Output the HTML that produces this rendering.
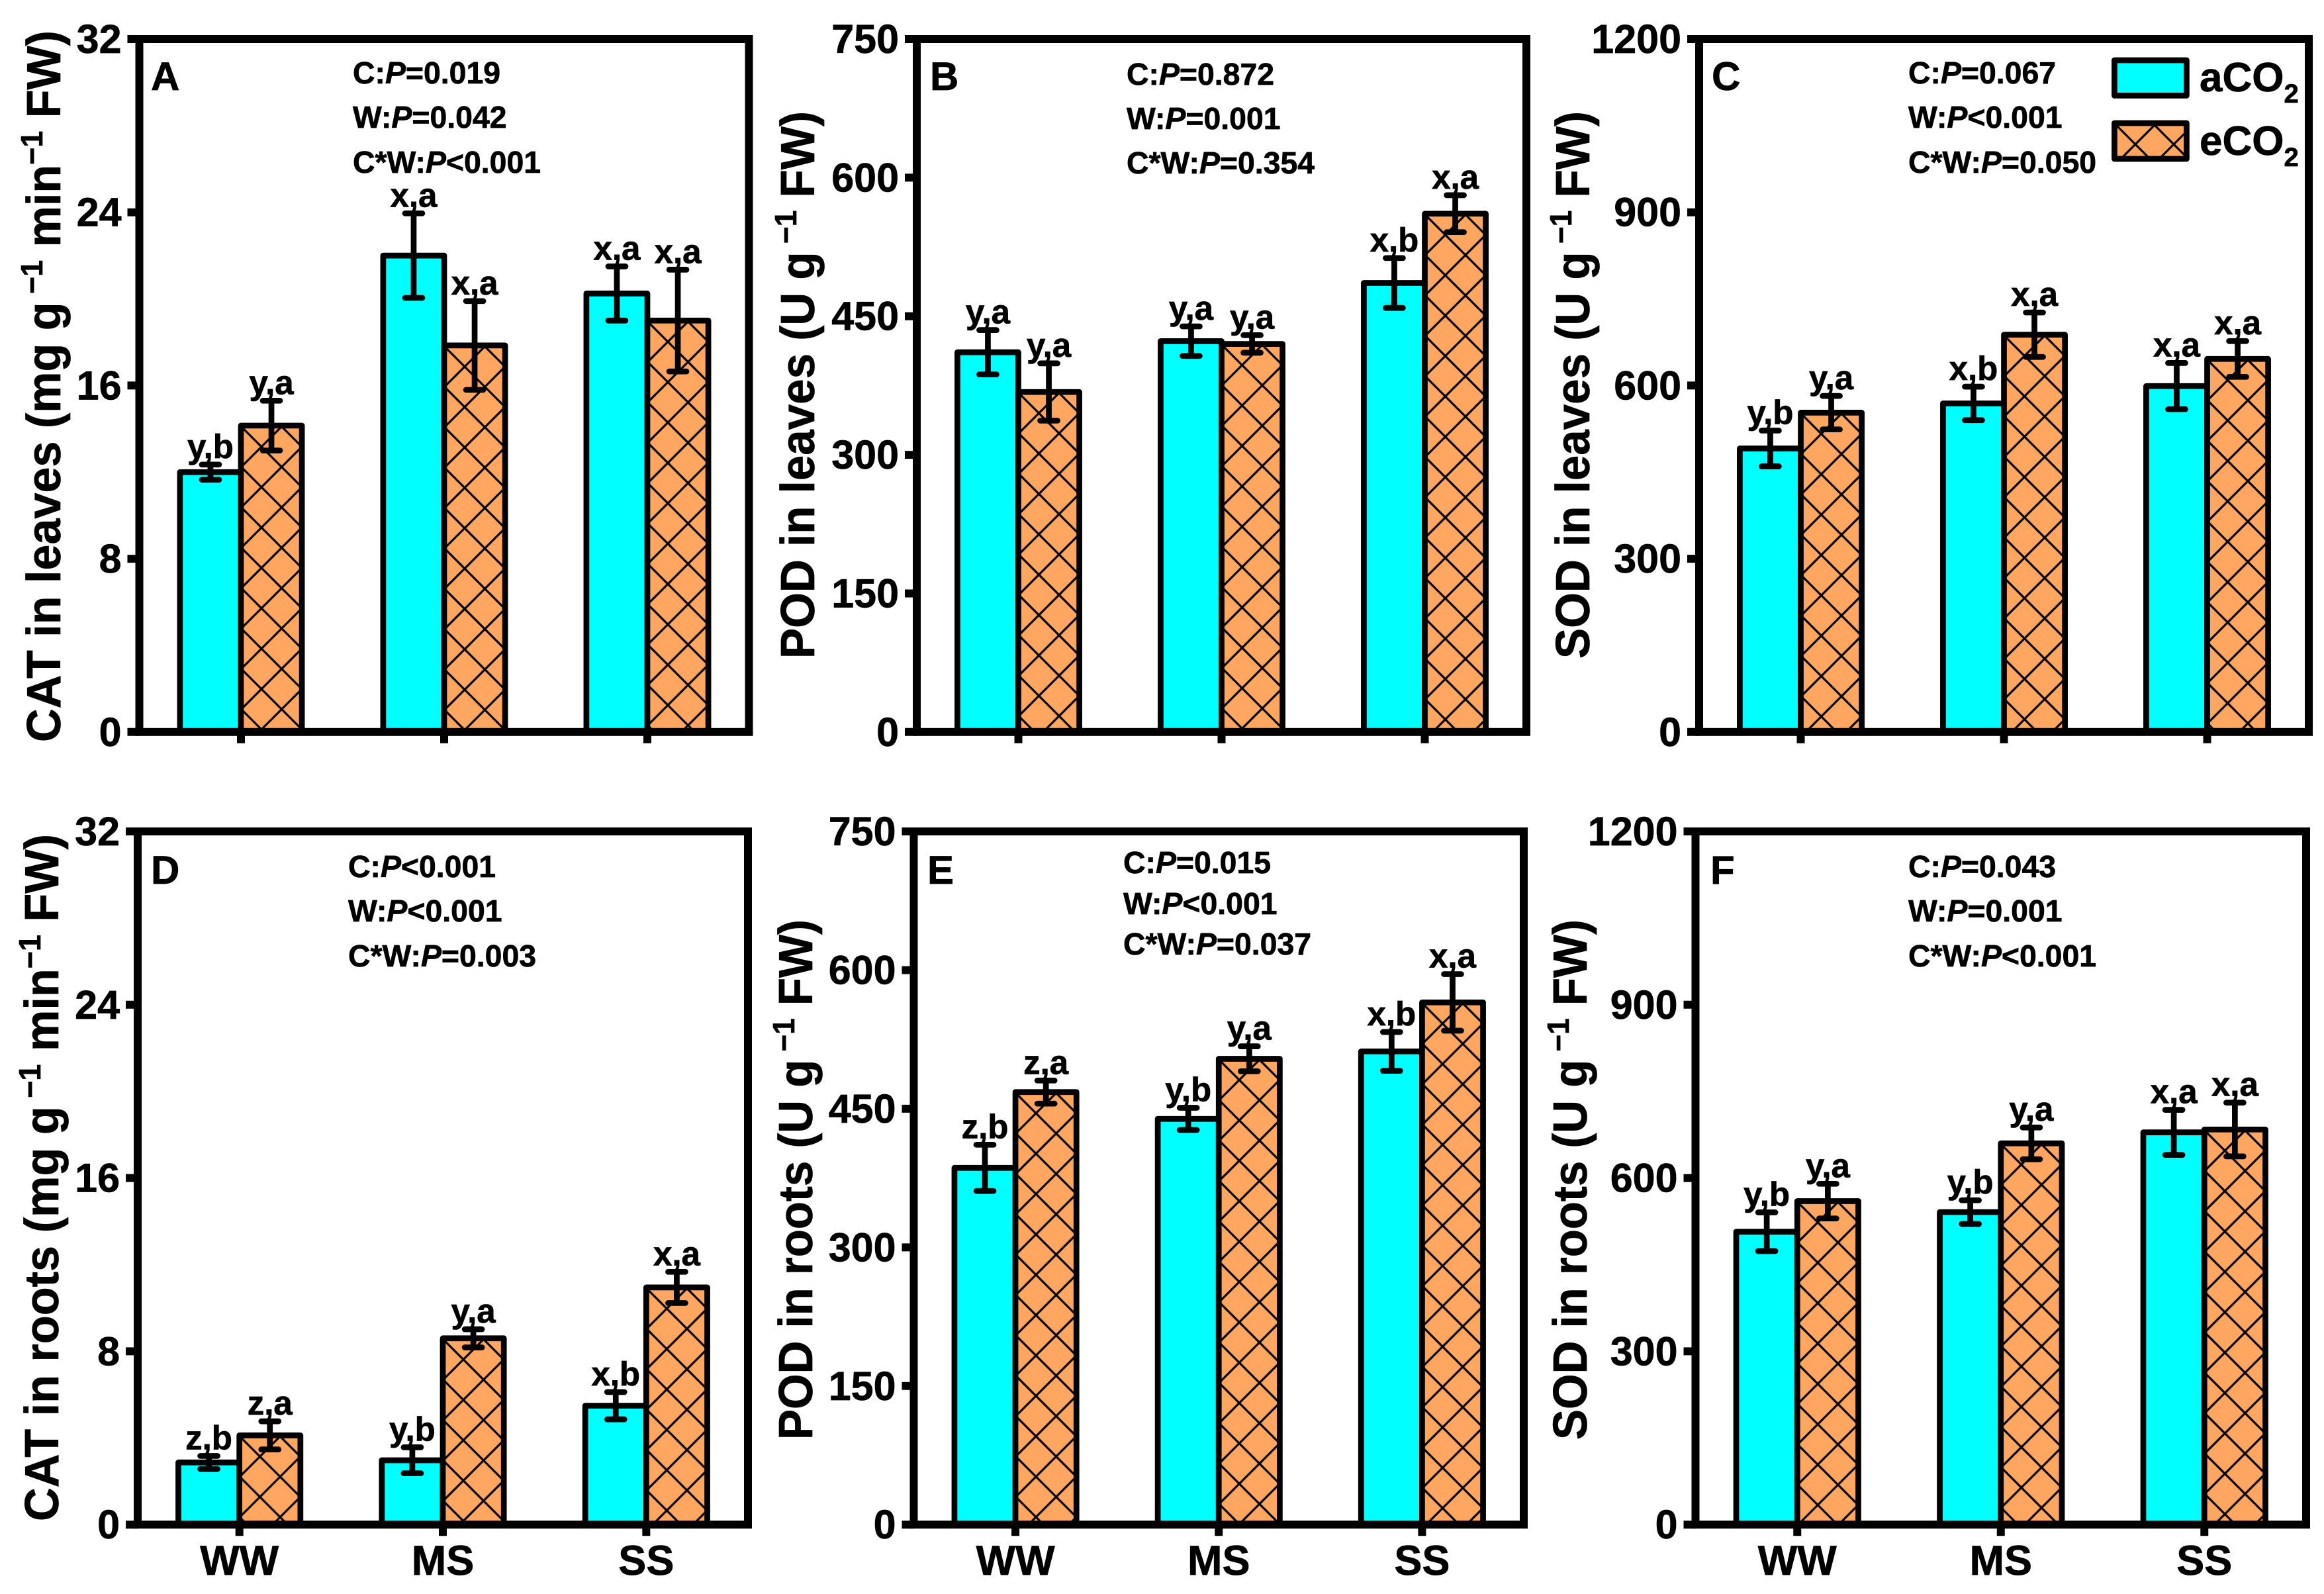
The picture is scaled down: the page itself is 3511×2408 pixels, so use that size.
<!DOCTYPE html>
<html lang="en">
<head>
<meta charset="utf-8">
<title>Antioxidant enzyme activity under CO2 and water treatments</title>
<style>
html,body{margin:0;padding:0;background:#fff;width:3511px;height:2408px;overflow:hidden}
svg{display:block}
text{font-family:"Liberation Sans",Arial,sans-serif;font-weight:700;fill:#000;stroke:#000;stroke-width:0.7px}
.stat{font-size:46.4px}
.letter{font-size:60px}
.ytitle{font-size:72px}
.sup{font-size:46px}
.legend-text{font-size:62px}
.sub{font-size:40px}
</style>
</head>
<body>
<svg id="chart" xmlns="http://www.w3.org/2000/svg" width="3511" height="2408" viewBox="0 0 3511 2408">
  <defs id="defs">
    <pattern id="legend-hatch" patternUnits="userSpaceOnUse" x="3226" y="218" width="58" height="58">
      <rect width="58" height="58" fill="#FFA660"/>
      <path d="M-5,-5L63,63M-5,63L63,-5" stroke="#000" stroke-width="3.2"/>
    </pattern>
  </defs>
  <rect width="3511" height="2408" fill="#fff"/>
  <g id="plots"></g>

  <!-- Y axis titles -->
  <text class="ytitle" transform="translate(91,1121) rotate(-90)" textLength="1075" lengthAdjust="spacingAndGlyphs">CAT in leaves (mg g<tspan class="sup" dy="-27"> −1</tspan><tspan dy="27"> min</tspan><tspan class="sup" dy="-27">−1</tspan><tspan dy="27"> FW)</tspan></text>
  <text class="ytitle" transform="translate(1230,995) rotate(-90)" textLength="827" lengthAdjust="spacingAndGlyphs">POD in leaves (U g<tspan class="sup" dy="-27"> −1</tspan><tspan dy="27"> FW)</tspan></text>
  <text class="ytitle" transform="translate(2401,995) rotate(-90)" textLength="827" lengthAdjust="spacingAndGlyphs">SOD in leaves (U g<tspan class="sup" dy="-27"> −1</tspan><tspan dy="27"> FW)</tspan></text>
  <text class="ytitle" transform="translate(88,2298) rotate(-90)" textLength="1038" lengthAdjust="spacingAndGlyphs">CAT in roots (mg g<tspan class="sup" dy="-27"> −1</tspan><tspan dy="27"> min</tspan><tspan class="sup" dy="-27">−1</tspan><tspan dy="27"> FW)</tspan></text>
  <text class="ytitle" transform="translate(1227,2175) rotate(-90)" textLength="786" lengthAdjust="spacingAndGlyphs">POD in roots (U g<tspan class="sup" dy="-27"> −1</tspan><tspan dy="27"> FW)</tspan></text>
  <text class="ytitle" transform="translate(2397,2175) rotate(-90)" textLength="786" lengthAdjust="spacingAndGlyphs">SOD in roots (U g<tspan class="sup" dy="-27"> −1</tspan><tspan dy="27"> FW)</tspan></text>

  <!-- Panel letters -->
  <text class="letter" x="228" y="136">A</text>
  <text class="letter" x="1405" y="136">B</text>
  <text class="letter" x="2586" y="136">C</text>
  <text class="letter" x="228" y="1335">D</text>
  <text class="letter" x="1401" y="1335">E</text>
  <text class="letter" x="2584" y="1335">F</text>

  <!-- Statistics -->
  <g>
    <text class="stat" x="533" y="126">C:<tspan font-style="italic">P</tspan>=0.019</text>
    <text class="stat" x="533" y="193">W:<tspan font-style="italic">P</tspan>=0.042</text>
    <text class="stat" x="533" y="261">C*W:<tspan font-style="italic">P</tspan>&lt;0.001</text>
  </g>
  <g>
    <text class="stat" x="1702" y="128">C:<tspan font-style="italic">P</tspan>=0.872</text>
    <text class="stat" x="1702" y="195">W:<tspan font-style="italic">P</tspan>=0.001</text>
    <text class="stat" x="1702" y="262">C*W:<tspan font-style="italic">P</tspan>=0.354</text>
  </g>
  <g>
    <text class="stat" x="2883" y="126">C:<tspan font-style="italic">P</tspan>=0.067</text>
    <text class="stat" x="2883" y="193">W:<tspan font-style="italic">P</tspan>&lt;0.001</text>
    <text class="stat" x="2883" y="261">C*W:<tspan font-style="italic">P</tspan>=0.050</text>
  </g>
  <g>
    <text class="stat" x="526" y="1325">C:<tspan font-style="italic">P</tspan>&lt;0.001</text>
    <text class="stat" x="526" y="1392">W:<tspan font-style="italic">P</tspan>&lt;0.001</text>
    <text class="stat" x="526" y="1460">C*W:<tspan font-style="italic">P</tspan>=0.003</text>
  </g>
  <g>
    <text class="stat" x="1697" y="1319">C:<tspan font-style="italic">P</tspan>=0.015</text>
    <text class="stat" x="1697" y="1381">W:<tspan font-style="italic">P</tspan>&lt;0.001</text>
    <text class="stat" x="1697" y="1442">C*W:<tspan font-style="italic">P</tspan>=0.037</text>
  </g>
  <g>
    <text class="stat" x="2883" y="1325">C:<tspan font-style="italic">P</tspan>=0.043</text>
    <text class="stat" x="2883" y="1392">W:<tspan font-style="italic">P</tspan>=0.001</text>
    <text class="stat" x="2883" y="1460">C*W:<tspan font-style="italic">P</tspan>&lt;0.001</text>
  </g>

  <!-- Legend -->
  <g>
    <g>
      <rect x="3194.4" y="91" width="109" height="53.4" fill="#00FFFF" stroke="#000" stroke-width="8.7" stroke-linejoin="round"/>
      <text class="legend-text" x="3323" y="138">aCO<tspan class="sub" dy="17">2</tspan></text>
    </g>
    <g>
      <rect x="3194.4" y="186" width="109" height="54" fill="url(#legend-hatch)" stroke="#000" stroke-width="8.7" stroke-linejoin="round"/>
      <text class="legend-text" x="3323" y="234">eCO<tspan class="sub" dy="17">2</tspan></text>
    </g>
  </g>
</svg>

<script>
const categories = ['WW', 'MS', 'SS'];
const catTicks = [0, 8, 16, 24, 32];
const podTicks = [0, 150, 300, 450, 600, 750];
const sodTicks = [0, 300, 600, 900, 1200];

const catLeavesAmbient = [12.0, 22.0, 20.25];
const catLeavesAmbientErr = [0.35, 1.95, 1.25];
const catLeavesAmbientSig = ['y,b', 'x,a', 'x,a'];
const catLeavesElevated = [14.15, 17.85, 19.0];
const catLeavesElevatedErr = [1.15, 2.05, 2.35];
const catLeavesElevatedSig = ['y,a', 'x,a', 'x,a'];

const podLeavesAmbient = [411, 423, 486];
const podLeavesAmbientErr = [24, 16, 27];
const podLeavesAmbientSig = ['y,a', 'y,a', 'x,b'];
const podLeavesElevated = [368, 420, 561];
const podLeavesElevatedErr = [31, 9.5, 20];
const podLeavesElevatedSig = ['y,a', 'y,a', 'x,a'];

const sodLeavesAmbient = [491, 569, 599];
const sodLeavesAmbientErr = [31, 29, 40];
const sodLeavesAmbientSig = ['y,b', 'x,b', 'x,a'];
const sodLeavesElevated = [553, 688, 646];
const sodLeavesElevatedErr = [29, 38.5, 31];
const sodLeavesElevatedSig = ['y,a', 'x,a', 'x,a'];

const catRootsAmbient = [2.87, 2.97, 5.49];
const catRootsAmbientErr = [0.3, 0.6, 0.63];
const catRootsAmbientSig = ['z,b', 'y,b', 'x,b'];
const catRootsElevated = [4.12, 8.6, 10.95];
const catRootsElevatedErr = [0.65, 0.42, 0.72];
const catRootsElevatedSig = ['z,a', 'y,a', 'x,a'];

const podRootsAmbient = [386, 439, 512];
const podRootsAmbientErr = [25, 12, 21];
const podRootsAmbientSig = ['z,b', 'y,b', 'x,b'];
const podRootsElevated = [468, 504, 565];
const podRootsElevatedErr = [12.5, 13.5, 30.6];
const podRootsElevatedSig = ['z,a', 'y,a', 'x,a'];

const sodRootsAmbient = [507, 541, 679];
const sodRootsAmbientErr = [33.5, 20.5, 39];
const sodRootsAmbientSig = ['y,b', 'y,b', 'x,a'];
const sodRootsElevated = [560, 660, 684];
const sodRootsElevatedErr = [30, 27.5, 46.5];
const sodRootsElevatedSig = ['y,a', 'y,a', 'x,a'];

const NS = 'http://www.w3.org/2000/svg';
const plots = document.getElementById('plots');
const defs = document.getElementById('defs');
const CYAN = '#00FFFF';
const ORANGE = '#FFA660';
const HATCH = 61;

function make(tag, parent) {
  const node = document.createElementNS(NS, tag);
  parent.appendChild(node);
  return node;
}

function drawPanel(p) {
  const group = make('g', plots);
  
  

  const yScale = v => p.bottom - (v / p.ticks[p.ticks.length - 1]) * (p.bottom - p.top);
  const step = (p.right - p.left) / 3;
  const xScale = i => p.left + step * (i + 0.5);
  const barWidth = step * 0.3;

  // Bars
  categories.forEach((cat, i) => {
    [
      { key: 'aco2', vals: p.a, off: -barWidth },
      { key: 'eco2', vals: p.e, off: 0 }
    ].forEach(s => {
      const x = xScale(i) + s.off;
      const y = yScale(s.vals[i]);
      const bar = make('rect', group);
      
      
      bar.setAttribute('x', x);
      bar.setAttribute('y', y);
      bar.setAttribute('width', barWidth);
      bar.setAttribute('height', p.bottom - y);
      bar.setAttribute('stroke', '#000');
      bar.setAttribute('stroke-width', 8.7);
      bar.setAttribute('stroke-linejoin', 'round');
      if (s.key === 'aco2') {
        bar.setAttribute('fill', CYAN);
      } else {
        const pid = 'hatch-' + p.id + '-' + i;
        const pat = make('pattern', defs);
        pat.setAttribute('id', pid);
        pat.setAttribute('patternUnits', 'userSpaceOnUse');
        pat.setAttribute('x', x + 31);
        pat.setAttribute('y', y + 32);
        pat.setAttribute('width', HATCH);
        pat.setAttribute('height', HATCH);
        const bg = make('rect', pat);
        bg.setAttribute('width', HATCH);
        bg.setAttribute('height', HATCH);
        bg.setAttribute('fill', ORANGE);
        const lines = make('path', pat);
        lines.setAttribute('d', `M-5,-5L${HATCH + 5},${HATCH + 5}M-5,${HATCH + 5}L${HATCH + 5},-5`);
        lines.setAttribute('stroke', '#000');
        lines.setAttribute('stroke-width', 3.2);
        bar.setAttribute('fill', 'url(#' + pid + ')');
      }
    });
  });

  // Frame
  const frame = make('rect', group);
  
  
  frame.setAttribute('x', p.left);
  frame.setAttribute('y', p.top);
  frame.setAttribute('width', p.right - p.left);
  frame.setAttribute('height', p.bottom - p.top);
  frame.setAttribute('fill', 'none');
  frame.setAttribute('stroke', '#000');
  frame.setAttribute('stroke-width', 12);

  // Y ticks
  p.ticks.forEach(t => {
    const y = yScale(t);
    const tick = make('line', group);
    
    
    tick.setAttribute('x1', p.left - 18);
    tick.setAttribute('x2', p.left);
    tick.setAttribute('y1', y);
    tick.setAttribute('y2', y);
    tick.setAttribute('stroke', '#000');
    tick.setAttribute('stroke-width', 12);
    const label = make('text', group);
    
    
    label.setAttribute('x', p.left - 27);
    label.setAttribute('y', y + 21);
    label.setAttribute('text-anchor', 'end');
    label.setAttribute('font-size', 61);
    label.textContent = t;
  });

  // X ticks
  categories.forEach((cat, i) => {
    const tick = make('line', group);
    
    
    tick.setAttribute('x1', xScale(i));
    tick.setAttribute('x2', xScale(i));
    tick.setAttribute('y1', p.bottom);
    tick.setAttribute('y2', p.bottom + 17);
    tick.setAttribute('stroke', '#000');
    tick.setAttribute('stroke-width', 12);
    if (p.showX) {
      const label = make('text', group);
      
      
      label.setAttribute('x', xScale(i));
      label.setAttribute('y', p.bottom + 76);
      label.setAttribute('text-anchor', 'middle');
      label.setAttribute('font-size', 63);
      label.textContent = cat;
    }
  });

  // Error bars and significance labels
  categories.forEach((cat, i) => {
    [
      { key: 'aco2', vals: p.a, errs: p.aErr, sig: p.aSig, off: -barWidth / 2 },
      { key: 'eco2', vals: p.e, errs: p.eErr, sig: p.eSig, off: barWidth / 2 }
    ].forEach(s => {
      const cx = xScale(i) + s.off;
      const hi = yScale(s.vals[i] + s.errs[i]);
      const lo = yScale(s.vals[i] - s.errs[i]);
      const err = make('path', group);
      
      
      err.setAttribute('d', `M${cx},${hi}V${lo}M${cx - 13},${hi}H${cx + 13}M${cx - 13},${lo}H${cx + 13}`);
      err.setAttribute('stroke', '#000');
      err.setAttribute('stroke-width', 8.7);
      err.setAttribute('stroke-linecap', 'round');
      err.setAttribute('fill', 'none');
      const sigLabel = make('text', group);
      
      
      sigLabel.setAttribute('x', cx);
      sigLabel.setAttribute('y', hi - 10);
      sigLabel.setAttribute('text-anchor', 'middle');
      sigLabel.setAttribute('font-size', 51);
      sigLabel.textContent = s.sig[i];
    });
  });
}

drawPanel({ id: 'a', left: 210.5, right: 1131.5, top: 59, bottom: 1105.8, ticks: catTicks, showX: false,
  a: catLeavesAmbient, aErr: catLeavesAmbientErr, aSig: catLeavesAmbientSig,
  e: catLeavesElevated, eErr: catLeavesElevatedErr, eSig: catLeavesElevatedSig });
drawPanel({ id: 'b', left: 1385, right: 2306, top: 59, bottom: 1105.8, ticks: podTicks, showX: false,
  a: podLeavesAmbient, aErr: podLeavesAmbientErr, aSig: podLeavesAmbientSig,
  e: podLeavesElevated, eErr: podLeavesElevatedErr, eSig: podLeavesElevatedSig });
drawPanel({ id: 'c', left: 2567, right: 3488, top: 59, bottom: 1105.8, ticks: sodTicks, showX: false,
  a: sodLeavesAmbient, aErr: sodLeavesAmbientErr, aSig: sodLeavesAmbientSig,
  e: sodLeavesElevated, eErr: sodLeavesElevatedErr, eSig: sodLeavesElevatedSig });
drawPanel({ id: 'd', left: 208, right: 1130, top: 1256, bottom: 2303.2, ticks: catTicks, showX: true,
  a: catRootsAmbient, aErr: catRootsAmbientErr, aSig: catRootsAmbientSig,
  e: catRootsElevated, eErr: catRootsElevatedErr, eSig: catRootsElevatedSig });
drawPanel({ id: 'e', left: 1380.5, right: 2302, top: 1256, bottom: 2303.2, ticks: podTicks, showX: true,
  a: podRootsAmbient, aErr: podRootsAmbientErr, aSig: podRootsAmbientSig,
  e: podRootsElevated, eErr: podRootsElevatedErr, eSig: podRootsElevatedSig });
drawPanel({ id: 'f', left: 2561.5, right: 3484, top: 1256, bottom: 2303.2, ticks: sodTicks, showX: true,
  a: sodRootsAmbient, aErr: sodRootsAmbientErr, aSig: sodRootsAmbientSig,
  e: sodRootsElevated, eErr: sodRootsElevatedErr, eSig: sodRootsElevatedSig });
</script>
</body>
</html>
